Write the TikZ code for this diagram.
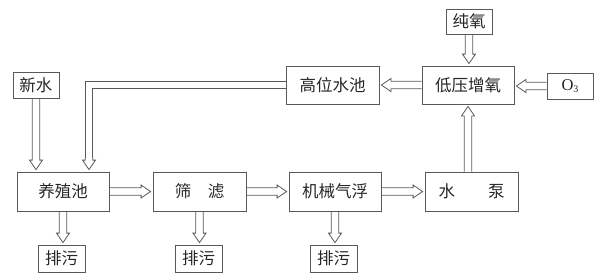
\documentclass[tikz,border=0pt]{standalone}
\usepackage{fontspec}
\setmainfont{Noto Sans CJK SC}
\newfontfamily\latinserif{Liberation Serif}
\usetikzlibrary{calc,positioning}
\begin{document}
\begin{tikzpicture}[x=1pt,y=-1pt,
    box/.style={draw=black!65, line width=0.8pt, inner sep=0pt, text=black!85,
      font=\fontsize{16.5}{16.5}\selectfont},
    small/.style={box, minimum width=46pt, minimum height=26pt},
    big/.style={box, minimum width=92pt, minimum height=38pt},
    pipe/.style={draw=black!65, line width=0.8pt, double, double distance=6.6pt},
    hollow/.style={draw=black!65, line width=0.8pt, line join=miter,
      to path={let \p1=(\tikztostart), \p2=(\tikztotarget),
        \n1={atan2(\y2-\y1,\x2-\x1)} in
        ($(\p1)+(\n1+90:3.7pt)$) -- ($(\p2)+(\n1:-11.5pt)+(\n1+90:3.7pt)$)
        -- ($(\p2)+(\n1:-11.5pt)+(\n1+90:6.5pt)$) -- ($(\p2)+(\n1:-2pt)$)
        -- ($(\p2)+(\n1:-11.5pt)+(\n1-90:6.5pt)$) -- ($(\p2)+(\n1:-11.5pt)+(\n1-90:3.7pt)$)
        -- ($(\p1)+(\n1-90:3.7pt)$)}}]

    \useasboundingbox (0,0) rectangle (600,277);

    % upper row
    \node[small] (xinshui) at (36,85) {新水};
    \node[big, minimum width=93pt] (gaowei) at (332.5,85) {高位水池};
    \node[big] (diya) at (468,85) {低压增氧};
    \node[small, minimum height=25pt] (chunyang) at (469,21.5) {纯氧};
    \node[small] (othree) at (570,86) {\latinserif O\raisebox{-0.25ex}{\fontsize{10}{10}\selectfont 3}};

    % lower row
    \node[big, minimum height=39pt] (yangzhi) at (63,191.5) {养殖池};
    \node[big, minimum width=93pt, minimum height=39pt] (shailv) at (199.5,191.5) {筛\quad 滤};
    \node[big, minimum height=39pt] (jixie) at (335,191.5) {机械气浮};
    \node[big, minimum width=93pt, minimum height=39pt] (shuibeng) at (471.5,191.5) {水\qquad 泵};

    % sewage
    \node[small, minimum width=47pt, minimum height=27pt] (paiwuA) at (61.5,258.5) {排污};
    \node[small, minimum width=47pt, minimum height=27pt] (paiwuB) at (198.5,258.5) {排污};
    \node[small, minimum width=47pt, minimum height=27pt] (paiwuC) at (333.5,258.5) {排污};

    % main flow
    \draw[hollow] (yangzhi.east) to (shailv.west);
    \draw[hollow] (shailv.east) to (jixie.west);
    \draw[hollow] (jixie.east) to (shuibeng.west);
    \draw[hollow] (diya.south |- shuibeng.north) to (diya.south);
    \draw[hollow] (chunyang.south) to (chunyang.south |- diya.north);
    \draw[hollow] (othree.west) to (othree.west -| diya.east);
    \draw[hollow] (diya.west) to (gaowei.east);
    \draw[hollow] (xinshui.south) to (xinshui.south |- yangzhi.north);

    % return to the pond
    \coordinate (bend) at ([xshift=26pt,yshift=14pt]yangzhi.north);
    \draw[pipe] (gaowei.west) -| (bend);
    \draw[hollow] (bend) to ([xshift=26pt]yangzhi.north);

    % discharge
    \draw[hollow] (yangzhi.south) to (yangzhi.south |- paiwuA.north);
    \draw[hollow] (shailv.south) to (shailv.south |- paiwuB.north);
    \draw[hollow] (jixie.south) to (jixie.south |- paiwuC.north);
\end{tikzpicture}
\end{document}
